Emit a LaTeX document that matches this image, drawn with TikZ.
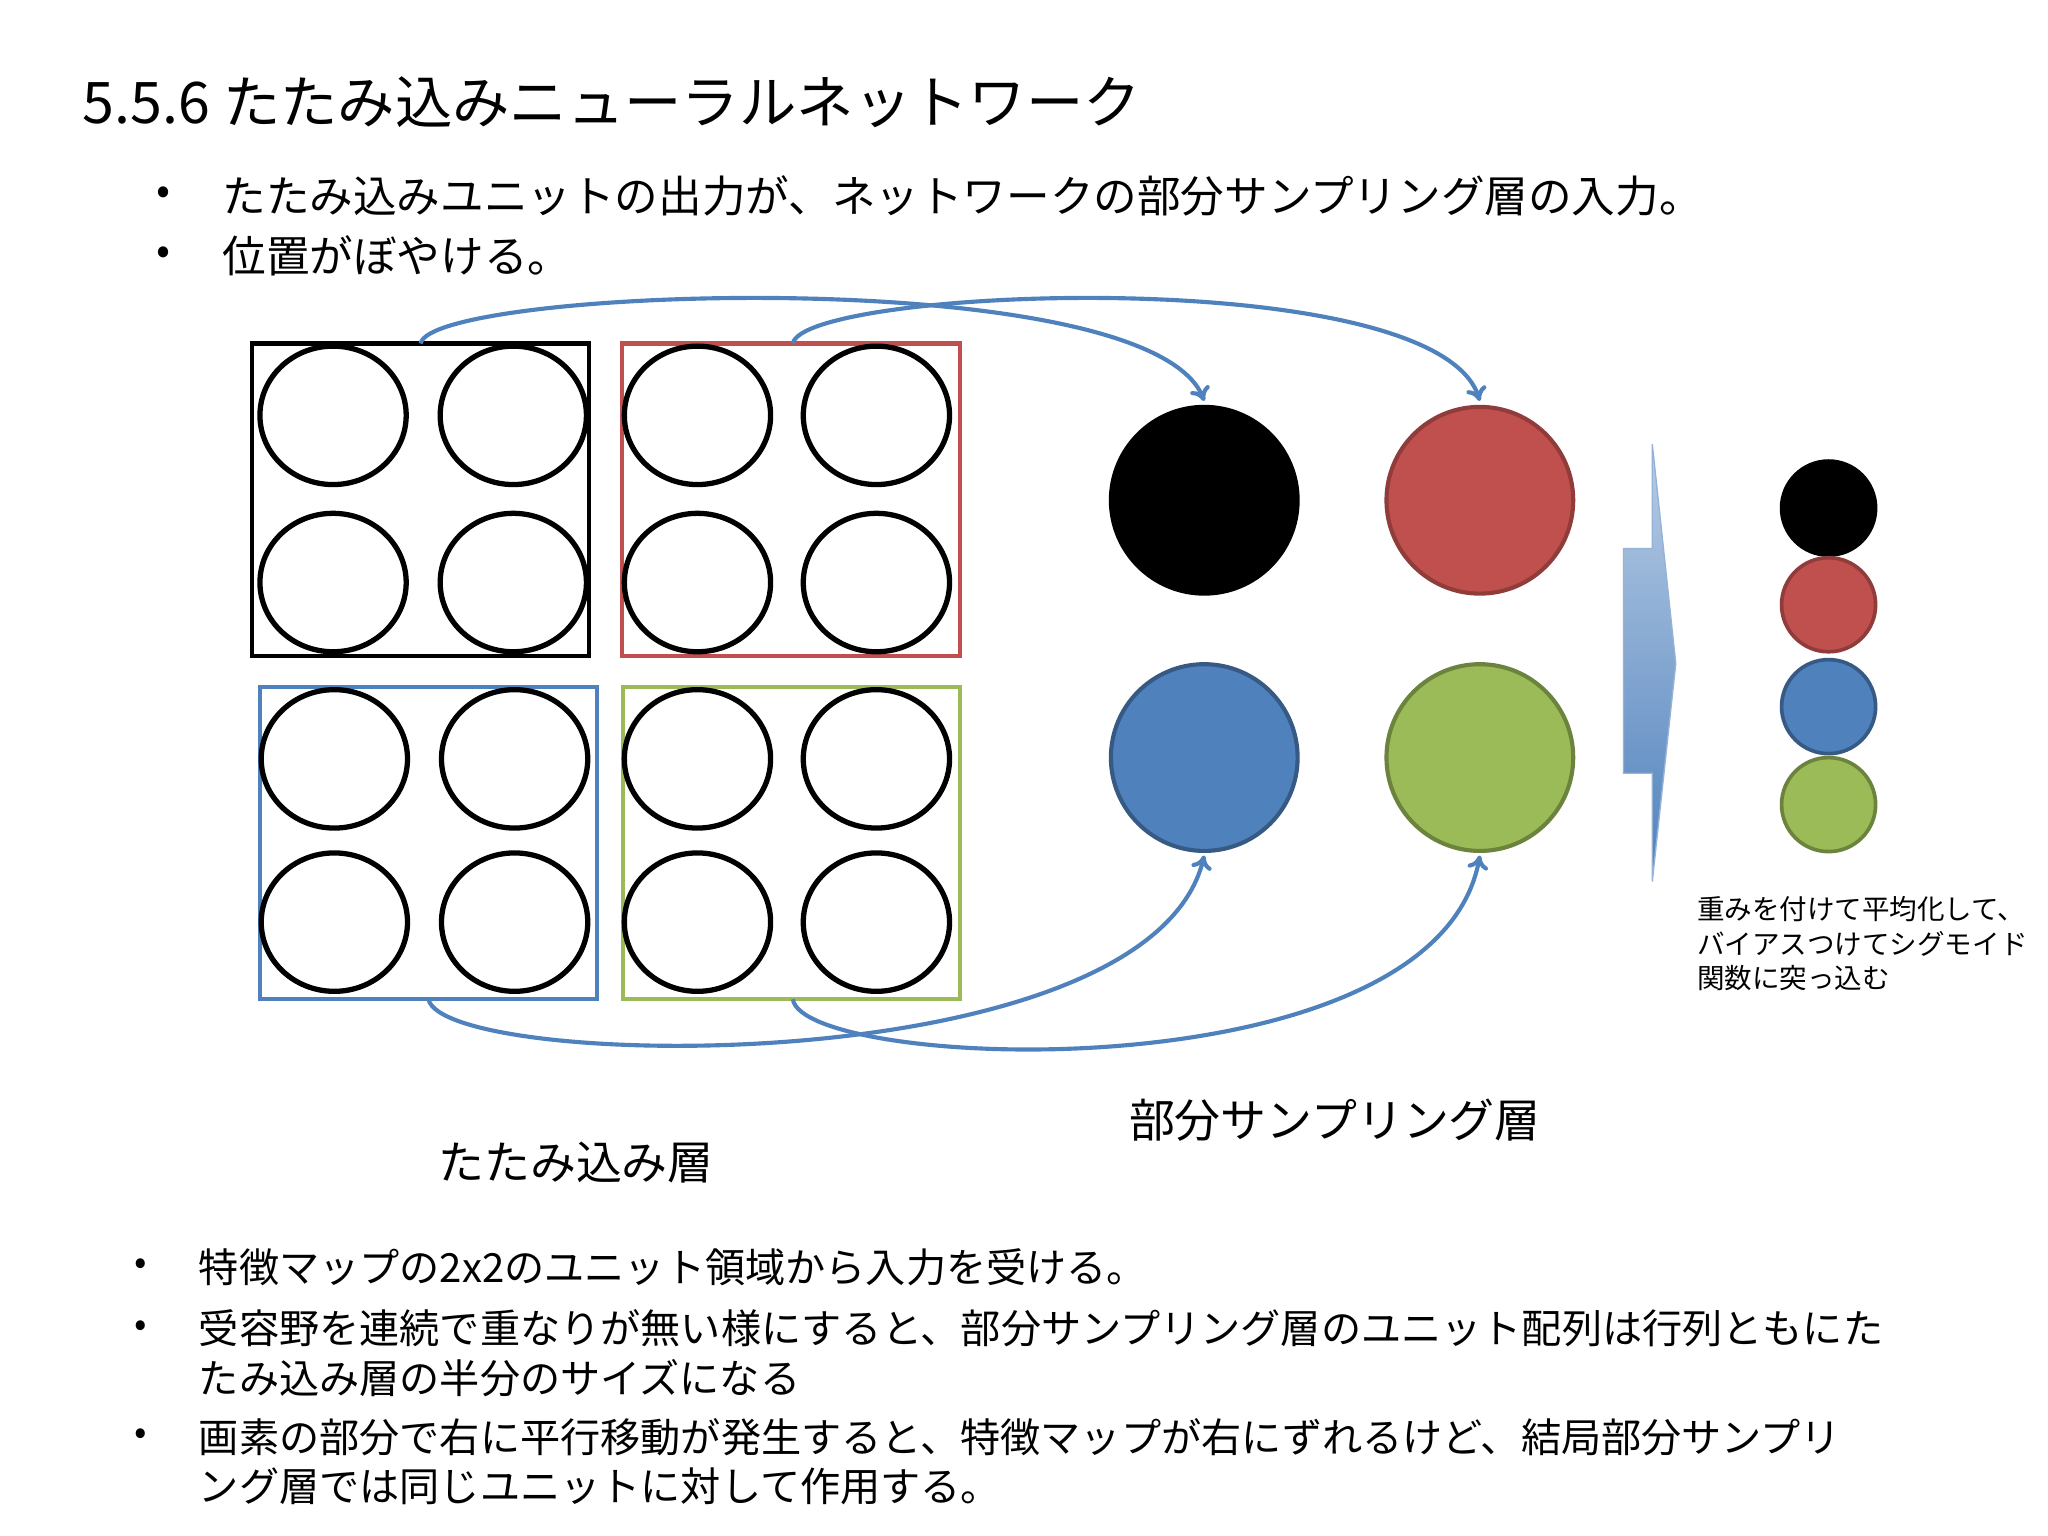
\documentclass[tikz,border=0pt]{standalone}
\usepackage{fontspec}
\setmainfont{Noto Sans CJK JP}
\usetikzlibrary{arrows.meta,shapes.geometric}
\definecolor{ablue}{HTML}{4F81BD}
\definecolor{cred}{HTML}{C0504D}
\definecolor{cblue}{HTML}{4F81BD}
\definecolor{cgreen}{HTML}{9BBB59}
\definecolor{sqred}{HTML}{C0504D}
\definecolor{sqblue}{HTML}{4F81BD}
\definecolor{sqgreen}{HTML}{9BBB59}
\begin{document}
\begin{tikzpicture}[x=0.02cm,y=-0.02cm,
  unit/.style={draw=black,line width=2.3pt,ellipse,minimum width=2.24cm,minimum height=2.12cm,inner sep=0},
  sq/.style={line width=1.8pt},
  big/.style={circle,line width=1.8pt,minimum size=2.86cm,inner sep=0},
  sm/.style={circle,line width=1.6pt,minimum size=1.44cm,inner sep=0},
  conn/.style={draw=ablue,line width=1.8pt,-{To[length=6pt,width=9pt]}},
  txt/.style={anchor=west,inner sep=0},
  bul/.style={anchor=center,inner sep=0}]
\useasboundingbox[fill=white] (0,0) rectangle (1568,1176);
\node[txt,font=\fontsize{25}{30}\selectfont] (title) at (63,78) {5.5.6 たたみ込みニューラルネットワーク};
\node[bul,font=\fontsize{18}{22}\selectfont] (b1) at (125,150) {•};
\node[txt,font=\fontsize{19}{23}\selectfont] (t1) at (170,150) {たたみ込みユニットの出力が、ネットワークの部分サンプリング層の入力。};
\node[bul,font=\fontsize{18}{22}\selectfont] (b2) at (125,196) {•};
\node[txt,font=\fontsize{19}{23}\selectfont] (t2) at (170,196) {位置がぼやける。};
% squares
\draw[sq,black] (193,263) rectangle (451,502);
\draw[sq,sqred] (476,263) rectangle (735,502);
\draw[sq,sqblue] (199,526) rectangle (457,765);
\draw[sq,sqgreen] (477,526) rectangle (735,765);
\foreach \x/\y [count=\i] in {255/318,393/318,255/446,393/446,534/318,671/318,534/446,671/446,256/581,394/581,256/706,394/706,534/581,671/581,534/706,671/706}
  \node[unit] (u\i) at (\x,\y) {};
% big circles
\node[big,fill=black,draw=black] (bk) at (922,383) {};
\node[big,fill=cred,draw=cred!75!black] (rd) at (1133,383) {};
\node[big,fill=cblue,draw=cblue!70!black] (bl) at (922,580) {};
\node[big,fill=cgreen,draw=cgreen!70!black] (gr) at (1133,580) {};
% connectors
\coordinate (s1) at (322,263); \coordinate (e1) at (922,307);
\coordinate (s2) at (607,263); \coordinate (e2) at (1133,307);
\coordinate (s3) at (328,765); \coordinate (e3) at (922,655);
\coordinate (s4) at (607,765); \coordinate (e4) at (1133,655);
\draw[conn] (s1) .. controls (330,220) and (880,200) .. (e1);
\draw[conn] (s2) .. controls (615,220) and (1100,200) .. (e2);
\draw[conn] (s3) .. controls (340,820) and (880,830) .. (e3);
\draw[conn] (s4) .. controls (615,820) and (1100,840) .. (e4);
% block arrow
\shade[top color=ablue!40,bottom color=ablue,draw=ablue!60,line width=0.6pt]
  (1243,420) -- (1265,420) -- (1265,340) -- (1283,508) -- (1265,675) -- (1265,592) -- (1243,592) -- cycle;
% small circles
\node[sm,fill=black,draw=black] (k2) at (1400,389) {};
\node[sm,fill=cred,draw=cred!75!black] (r2) at (1400,463) {};
\node[sm,fill=cblue,draw=cblue!70!black] (b2c) at (1400,541) {};
\node[sm,fill=cgreen,draw=cgreen!70!black] (g2) at (1400,616) {};
\node[txt,font=\fontsize{12}{15}\selectfont,align=left,anchor=north west] (note) at (1299,686) {重みを付けて平均化して、\\バイアスつけてシグモイド\\関数に突っ込む};
\node[font=\fontsize{20}{24}\selectfont,inner sep=0] (lsub) at (1022,858) {部分サンプリング層};
\node[font=\fontsize{20}{24}\selectfont,inner sep=0] (lconv) at (441,890) {たたみ込み層};
% bottom bullets
\foreach \y/\t [count=\i] in {970/特徴マップの2x2のユニット領域から入力を受ける。,1017/受容野を連続で重なりが無い様にすると、部分サンプリング層のユニット配列は行列ともにた,1055/たみ込み層の半分のサイズになる,1100/画素の部分で右に平行移動が発生すると、特徴マップが右にずれるけど、結局部分サンプリ,1138/ング層では同じユニットに対して作用する。}
  \node[txt,font=\fontsize{17.5}{21}\selectfont] (bt\i) at (152,\y) {\t};
\foreach \y [count=\i] in {970,1017,1100}
  \node[bul,font=\fontsize{16}{20}\selectfont] (bb\i) at (108,\y) {•};
\end{tikzpicture}
\end{document}
